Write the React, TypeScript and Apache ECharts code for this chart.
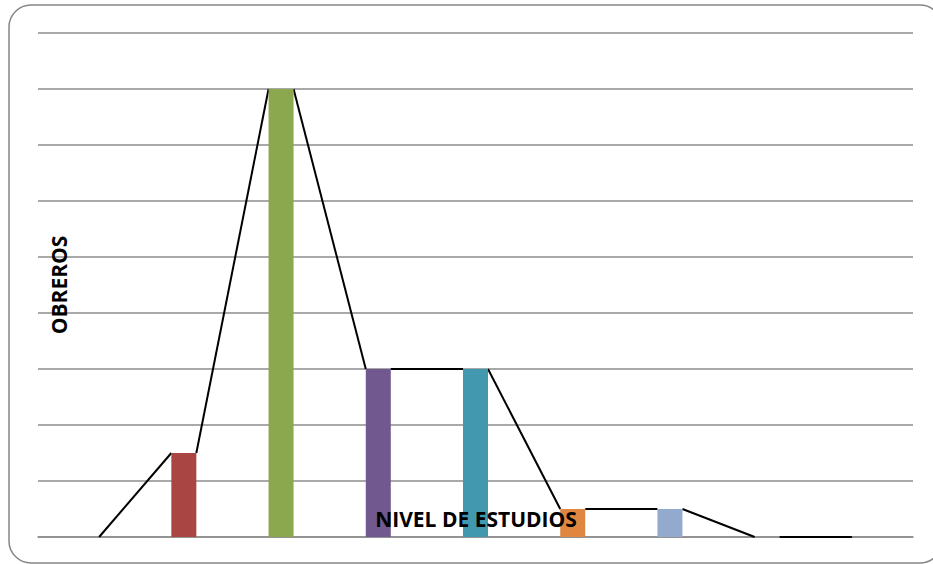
import React, { useEffect, useRef } from "react";
import * as echarts from "echarts";

const categories = [
  "Sin estudios",
  "Primaria incompleta",
  "Primaria completa",
  "Secundaria incompleta",
  "Secundaria completa",
  "Técnico",
  "Universitario incompleto",
  "Universitario completo",
  "Posgrado",
];
const obreros = [0, 1.5, 8, 3, 3, 0.5, 0.5, 0, 0];
const barColors = [
  "#4F81BD",
  "#A94643",
  "#8BA84F",
  "#71598F",
  "#4298AF",
  "#DF8640",
  "#93A9CE",
  "#4F81BD",
  "#A94643",
];
const yMax = 9;
const yInterval = 1;

const BAR_WIDTH = 25;

export default function App() {
  const ref = useRef<HTMLDivElement>(null);
  useEffect(() => {
    if (!ref.current) return;
    const chart = echarts.init(ref.current, undefined, { renderer: "svg" });
    const segments = obreros.slice(0, -1).map((v, i) => [i, v, i + 1, obreros[i + 1]]);
    chart.setOption({
      animation: false,
      backgroundColor: "#ffffff",
      grid: { left: 38, right: 20, top: 33, bottom: 27, containLabel: false },
      xAxis: {
        type: "category",
        data: categories,
        boundaryGap: true,
        axisLine: { show: true, lineStyle: { color: "#8c8c8c", width: 1.5 } },
        axisTick: { show: false },
        axisLabel: { show: false },
        splitLine: { show: false },
      },
      yAxis: {
        type: "value",
        min: 0,
        max: yMax,
        interval: yInterval,
        axisLine: { show: false },
        axisTick: { show: false },
        axisLabel: { show: false },
        splitLine: { show: true, lineStyle: { color: "#8c8c8c", width: 1.5 } },
      },
      series: [
        {
          type: "custom",
          data: segments,
          encode: { x: [0, 2], y: [1, 3] },
          clip: false,
          z: 3,
          renderItem: (params: any, api: any) => {
            const p1 = api.coord([api.value(0), api.value(1)]);
            const p2 = api.coord([api.value(2), api.value(3)]);
            return {
              type: "line",
              shape: {
                x1: p1[0] + BAR_WIDTH / 2,
                y1: p1[1],
                x2: p2[0] - BAR_WIDTH / 2,
                y2: p2[1],
              },
              style: { stroke: "#000000", lineWidth: 2 },
            };
          },
        },
        {
          type: "bar",
          barWidth: BAR_WIDTH,
          z: 4,
          data: obreros.map((v, i) => ({ value: v, itemStyle: { color: barColors[i] } })),
        },
      ],
      graphic: [
        {
          type: "rect",
          shape: { x: 9, y: 5, width: 933, height: 558, r: 22 },
          style: { fill: "none", stroke: "#868686", lineWidth: 1.5 },
          z: 0,
        },
        {
          type: "text",
          x: 476,
          y: 519,
          z: 10,
          style: {
            text: "NIVEL DE ESTUDIOS",
            font: "bold 21px 'Open Sans', sans-serif",
            fill: "#000000",
            align: "center",
            verticalAlign: "middle",
          },
        },
        {
          type: "text",
          x: 59,
          y: 285,
          rotation: Math.PI / 2,
          z: 10,
          style: {
            text: "OBREROS",
            font: "bold 21px 'Open Sans', sans-serif",
            fill: "#000000",
            align: "center",
            verticalAlign: "middle",
          },
        },
      ],
    });
    return () => chart.dispose();
  }, []);
  return (
    <div
      ref={ref}
      style={{ position: "absolute", left: 0, top: 0, width: 933, height: 564 }}
    />
  );
}
